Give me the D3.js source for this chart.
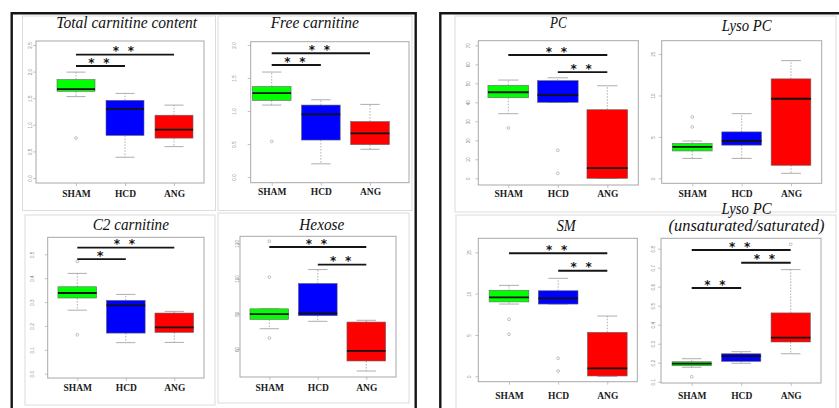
<!DOCTYPE html>
<html><head><meta charset="utf-8">
<script src="https://cdn.jsdelivr.net/npm/d3@7"></script>
<style>body{margin:0;background:#fff;} svg{display:block;}</style>
</head><body>
<svg id="chart" width="839" height="408"></svg>
<script>
// ---------------- DATA ----------------
const groups = ["SHAM", "HCD", "ANG"];
const groupColors = ["#00ff00", "#0000ff", "#ff0000"];

// box stats per group: [lower whisker, Q1, median, Q3, upper whisker]
const totalCarnitineBox = [[1.53, 1.63, 1.67, 1.85, 1.99], [0.39, 0.80, 1.30, 1.46, 1.59], [0.59, 0.75, 0.91, 1.18, 1.37]];
const totalCarnitineOut = [[0.75], [], []];
const totalCarnitineTicks = [0, 0.5, 1, 1.5, 2, 2.5];
const totalCarnitineSig = [[0, 2, 2.32, 2], [0, 1, 2.105, 2]];

const freeCarnitineBox = [[1.09, 1.16, 1.27, 1.37, 1.59], [0.20, 0.56, 0.95, 1.09, 1.17], [0.42, 0.49, 0.66, 0.84, 1.10]];
const freeCarnitineOut = [[0.54], [], []];
const freeCarnitineTicks = [0, 0.5, 1, 1.5, 2];
const freeCarnitineSig = [[0, 2, 1.874, 2], [0, 1, 1.697, 2]];

const c2CarnitineBox = [[0.266, 0.317, 0.338, 0.364, 0.42], [0.130, 0.170, 0.286, 0.307, 0.332], [0.131, 0.173, 0.194, 0.254, 0.261]];
const c2CarnitineOut = [[0.47, 0.163], [], []];
const c2CarnitineTicks = [0, 0.1, 0.2, 0.3, 0.4, 0.5];
const c2CarnitineSig = [[0, 2, 0.528, 2], [0, 1, 0.480, 1]];

const hexoseBox = [[71.5, 76.8, 79.8, 82.8, 82.8], [75.7, 78.9, 80.2, 97.2, 105.1], [47.5, 53.2, 58.9, 75.3, 76.3]];
const hexoseOut = [[121.2, 100.8, 66.2], [], []];
const hexoseTicks = [60, 80, 100, 120];
const hexoseSig = [[0, 2, 117.9, 2], [1, 2, 107.9, 2]];

const pcBox = [[34.0, 42.4, 45.3, 48.9, 51.7], [40.0, 40.0, 43.8, 51.4, 52.9], [0, 0, 5.4, 36.1, 48.7]];
const pcOut = [[26.5], [14.7, 2.6], []];
const pcTicks = [0, 10, 20, 30, 40, 50, 60, 70];
const pcSig = [[0, 2, 64.9, 2], [1, 2, 55.9, 2]];

const lysoPcBox = [[2.4, 3.3, 3.8, 4.2, 4.5], [2.4, 4.0, 4.5, 5.6, 7.8], [0.6, 1.57, 9.6, 12.0, 14.2]];
const lysoPcOut = [[7.4, 6.2], [], []];
const lysoPcTicks = [0, 5, 10, 15];
const lysoPcSig = [];

const smBox = [[8.74, 9.0, 9.55, 10.4, 11.0], [8.74, 8.74, 9.43, 10.35, 11.85], [0, 0.04, 0.97, 5.32, 7.29]];
const smOut = [[6.9, 5.08], [2.18, 0.64], []];
const smTicks = [0, 5, 10, 15];
const smSig = [[0, 2, 14.88, 2], [1, 2, 12.77, 2]];

const lysoRatioBox = [[0.176, 0.184, 0.195, 0.205, 0.221], [0.197, 0.207, 0.235, 0.247, 0.258], [0.247, 0.309, 0.332, 0.462, 0.69]];
const lysoRatioOut = [[0.126], [], [0.823]];
const lysoRatioTicks = [0.1, 0.2, 0.3, 0.4, 0.5, 0.6, 0.7, 0.8];
const lysoRatioSig = [[0, 2, 0.793, 2], [1, 2, 0.726, 2], [0, 1, 0.593, 2]];

// ---------------- LAYOUT ----------------
const f1 = d3.format(".1f"), f0 = d3.format("d");
const panels = [
  {title: ["Total carnitine content"], tw: [141], tx: 126.7, ty: [28], box: [36, 204, 41, 183], c: [76, 174], bw: 38,
   yDom: [0, 2.5], yRange: [178, 45], labelX: 30, xLabY: 197, stats: totalCarnitineBox, out: totalCarnitineOut, ticks: totalCarnitineTicks, sig: totalCarnitineSig, fmt: f1},
  {title: ["Free carnitine"], tw: [88.3], tx: 314.8, ty: [27.5], box: [250.7, 409, 41.7, 182.7], c: [271.7, 370], bw: 38.7,
   yDom: [0, 2], yRange: [177, 45], labelX: 234, xLabY: 195.5, stats: freeCarnitineBox, out: freeCarnitineOut, ticks: freeCarnitineTicks, sig: freeCarnitineSig, fmt: f1},
  {title: ["C2 carnitine"], tw: [76.3], tx: 130.8, ty: [230], box: [47.7, 204, 237.3, 378], c: [77.3, 174.3], bw: 38.7,
   yDom: [0, 0.5], yRange: [373.7, 254.3], labelX: 32.5, xLabY: 391, stats: c2CarnitineBox, out: c2CarnitineOut, ticks: c2CarnitineTicks, sig: c2CarnitineSig, fmt: f1},
  {title: ["Hexose"], tw: [45], tx: 321.8, ty: [230], box: [240, 396, 236.3, 377], c: [269.3, 366.3], bw: 38.7,
   yDom: [60, 120], yRange: [349, 243.3], labelX: 237, xLabY: 390.5, stats: hexoseBox, out: hexoseOut, ticks: hexoseTicks, sig: hexoseSig, fmt: f0},
  {title: ["PC"], tw: [16.7], tx: 558.3, ty: [28], box: [478.3, 638.3, 40.7, 185], c: [508.3, 607.3], bw: 40.7,
   yDom: [0, 70], yRange: [178.3, 45.3], labelX: 468.3, xLabY: 197, stats: pcBox, out: pcOut, ticks: pcTicks, sig: pcSig, fmt: f0},
  {title: ["Lyso PC"], tw: [50], tx: 746.7, ty: [31], box: [661.7, 821.7, 40.7, 183.3], c: [692.3, 791], bw: 39.7,
   yDom: [0, 15], yRange: [178.3, 54], labelX: 653.3, xLabY: 197, stats: lysoPcBox, out: lysoPcOut, ticks: lysoPcTicks, sig: lysoPcSig, fmt: f0},
  {title: ["SM"], tw: [19], tx: 566.2, ty: [230.5], box: [478.3, 637.3, 238.3, 381.7], c: [509, 607.3], bw: 39.7,
   yDom: [0, 15], yRange: [376.3, 252.3], labelX: 469.3, xLabY: 399, stats: smBox, out: smOut, ticks: smTicks, sig: smSig, fmt: f0},
  {title: ["Lyso PC", "(unsaturated/saturated)"], tw: [50, 156], tx: 746.5, ty: [213.5, 231], box: [661, 821, 238.3, 383], c: [691.7, 790.7], bw: 39.3,
   yDom: [0.1, 0.8], yRange: [381.7, 248.7], labelX: 653.3, xLabY: 399, stats: lysoRatioBox, out: lysoRatioOut, ticks: lysoRatioTicks, sig: lysoRatioSig, fmt: f1}
];

const svg = d3.select("#chart");
svg.append("rect").attr("width", 839).attr("height", 408).attr("fill", "#fff");

// light panel borders
const borders = [[22.5, 16, 215.5, 210.5], [218, 16, 412, 210.5], [25, 215, 215, 405], [218, 213, 409, 403],
                 [455, 16, 836, 212], [456, 215, 836, 412]];
svg.selectAll(".pb").data(borders).join("rect")
  .attr("x", d => d[0]).attr("y", d => d[1]).attr("width", d => d[2] - d[0]).attr("height", d => d[3] - d[1])
  .attr("fill", "none").attr("stroke", "#dcdcdc").attr("stroke-width", 1);

// black frames
svg.append("path").attr("d", "M11.7,420V13.3H415.7V420").attr("fill", "none").attr("stroke", "#151515").attr("stroke-width", 2.4);
svg.append("path").attr("d", "M440.3,420V13.3H845").attr("fill", "none").attr("stroke", "#151515").attr("stroke-width", 2.4);

function drawPanel(p) {
  const g = svg.append("g");
  const x = d3.scalePoint().domain(groups).range(p.c);
  const y = d3.scaleLinear().domain(p.yDom).range(p.yRange);
  const [bx0, bx1, by0, by1] = p.box;

  // plot box
  g.append("rect").attr("x", bx0).attr("y", by0).attr("width", bx1 - bx0).attr("height", by1 - by0)
    .attr("fill", "none").attr("stroke", "#a8a8a8").attr("stroke-width", 1);

  // y axis
  const ya = g.append("g").attr("transform", `translate(${bx0},0)`)
    .call(d3.axisLeft(y).tickValues(p.ticks).tickFormat(p.fmt).tickSize(3).tickSizeOuter(0));
  ya.select(".domain").remove();
  ya.selectAll("line").attr("stroke", "#aaa").attr("stroke-width", 0.7);
  ya.selectAll("text").attr("x", null).attr("dy", null).attr("text-anchor", "middle")
    .attr("transform", `translate(${p.labelX - bx0},0) rotate(-90)`)
    .attr("dy", "0.35em").attr("font-size", 4.6).attr("font-family", "Liberation Sans, sans-serif").attr("fill", "#888");

  // x axis
  const xa = g.append("g").attr("transform", `translate(0,${by1})`)
    .call(d3.axisBottom(x).tickSize(3).tickSizeOuter(0));
  xa.select(".domain").remove();
  xa.selectAll("line").attr("stroke", "#aaa").attr("stroke-width", 0.7);
  xa.selectAll("text").attr("y", p.xLabY - by1).attr("dy", null)
    .attr("font-family", "Liberation Serif, serif").attr("font-weight", "bold").attr("font-size", 9.5).attr("fill", "#1a1a1a");

  // boxes
  const bg = g.selectAll(".bx").data(p.stats).join("g");
  bg.each(function (s, i) {
    const gg = d3.select(this);
    const xc = x(groups[i]);
    const [lo, q1, md, q3, hi] = s;
    gg.append("line").attr("x1", xc).attr("x2", xc).attr("y1", y(q3)).attr("y2", y(hi))
      .attr("stroke", "#999").attr("stroke-width", 0.8).attr("stroke-dasharray", "1.5,1.5");
    gg.append("line").attr("x1", xc).attr("x2", xc).attr("y1", y(q1)).attr("y2", y(lo))
      .attr("stroke", "#999").attr("stroke-width", 0.8).attr("stroke-dasharray", "1.5,1.5");
    [lo, hi].forEach(v => gg.append("line").attr("x1", xc - p.bw / 4).attr("x2", xc + p.bw / 4)
      .attr("y1", y(v)).attr("y2", y(v)).attr("stroke", "#999").attr("stroke-width", 0.8));
    gg.append("rect").attr("x", xc - p.bw / 2).attr("width", p.bw)
      .attr("y", y(q3)).attr("height", Math.max(0.5, y(q1) - y(q3)))
      .attr("fill", groupColors[i]).attr("stroke", "#666").attr("stroke-width", 0.6);
    gg.append("line").attr("x1", xc - p.bw / 2).attr("x2", xc + p.bw / 2).attr("y1", y(md)).attr("y2", y(md))
      .attr("stroke", "#111").attr("stroke-width", 1.8);
    gg.selectAll("circle").data(p.out[i]).join("circle")
      .attr("cx", xc).attr("cy", v => y(v)).attr("r", 1.4)
      .attr("fill", "none").attr("stroke", "#999").attr("stroke-width", 0.6);
  });

  // significance bars
  p.sig.forEach(([a, b, lev, n]) => {
    const xa0 = x(groups[a]), xb0 = x(groups[b]), yy = y(lev);
    g.append("line").attr("x1", xa0).attr("x2", xb0).attr("y1", yy).attr("y2", yy)
      .attr("stroke", "#151515").attr("stroke-width", 1.9);
    const mid = (xa0 + xb0) / 2 - 1.5;
    const xs = n === 2 ? [mid - 7.5, mid + 7.5] : [mid];
    const fs = n === 2 ? 12 : 13;
    xs.forEach(sx => g.append("text").attr("x", sx).attr("y", yy - 6.5 + fs * 0.6)
      .attr("text-anchor", "middle").attr("font-family", "DejaVu Sans, sans-serif").attr("font-weight", "bold")
      .attr("font-size", fs).attr("fill", "#151515").text("*"));
  });

  // title
  p.title.forEach((t, k) => {
    g.append("text").attr("x", p.tx).attr("y", p.ty[k]).attr("text-anchor", "middle")
      .attr("font-family", "Liberation Serif, serif").attr("font-style", "italic")
      .attr("font-size", 17).attr("fill", "#111")
      .attr("textLength", p.tw[k]).attr("lengthAdjust", "spacingAndGlyphs").text(t);
  });
}
panels.forEach(drawPanel);
</script>
</body></html>
